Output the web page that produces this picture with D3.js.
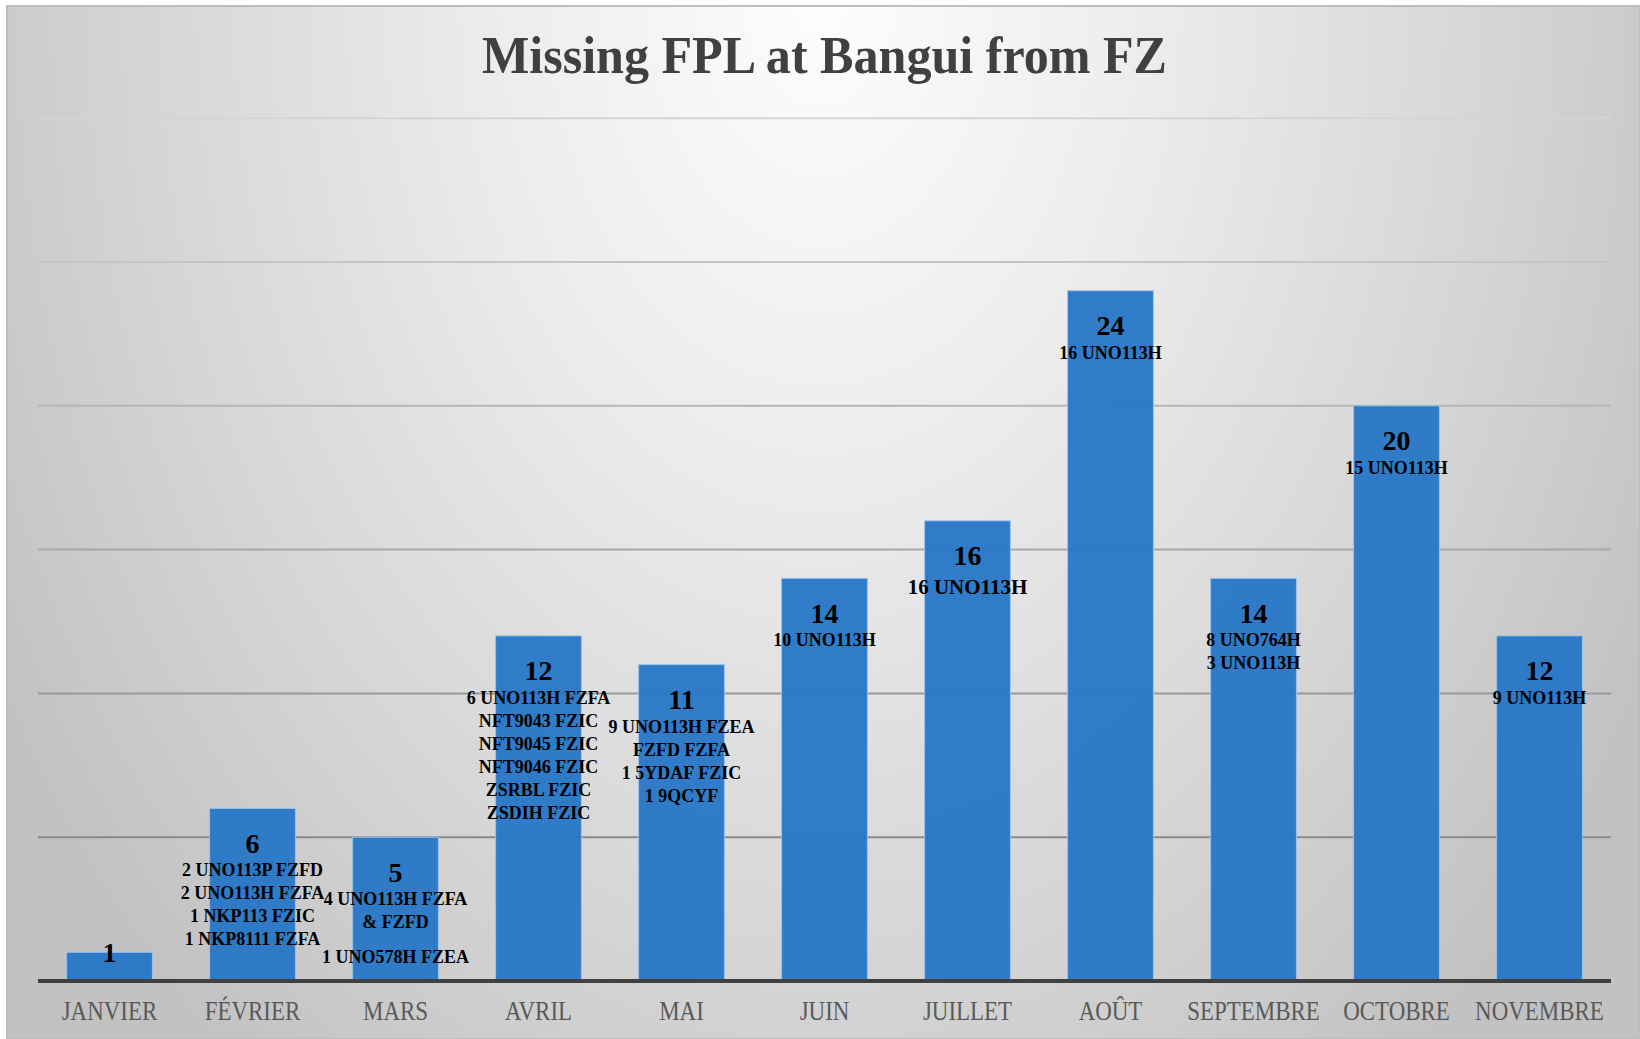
<!DOCTYPE html>
<html>
<head>
<meta charset="utf-8">
<script src="https://cdn.jsdelivr.net/npm/d3@7"></script>
<style>
  html, body { margin: 0; padding: 0; background: #ffffff; }
  svg { display: block; }
</style>
</head>
<body>
<svg id="chart" width="1640" height="1039"></svg>
<script>
// ---- data ----
const title = "Missing FPL at Bangui from FZ";
const months = ["JANVIER", "FÉVRIER", "MARS", "AVRIL", "MAI", "JUIN", "JUILLET", "AOÛT", "SEPTEMBRE", "OCTOBRE", "NOVEMBRE"];
const values = [1, 6, 5, 12, 11, 14, 16, 24, 14, 20, 12];
const details = [
  [],
  ["2 UNO113P FZFD", "2 UNO113H FZFA", "1 NKP113 FZIC", "1 NKP8111 FZFA"],
  ["4 UNO113H FZFA", "& FZFD", "", "1 UNO578H FZEA"],
  ["6 UNO113H FZFA", "NFT9043 FZIC", "NFT9045 FZIC", "NFT9046 FZIC", "ZSRBL FZIC", "ZSDIH FZIC"],
  ["9 UNO113H FZEA", "FZFD FZFA", "1 5YDAF FZIC", "1 9QCYF"],
  ["10 UNO113H"],
  ["16 UNO113H"],
  ["16 UNO113H"],
  ["8 UNO764H", "3 UNO113H"],
  ["15 UNO113H"],
  ["9 UNO113H"]
];
const yTicks = [0, 5, 10, 15, 20, 25, 30];

// ---- layout ----
const W = 1640, H = 1039;
const svg = d3.select("#chart");
const defs = svg.append("defs");

const bg = defs.append("radialGradient").attr("id", "bg")
  .attr("gradientUnits", "userSpaceOnUse")
  .attr("cx", 820).attr("cy", 0).attr("r", 1000)
  .attr("gradientTransform", "translate(820,0) scale(0.95,1.35) translate(-820,0)");
bg.append("stop").attr("offset", 0).attr("stop-color", "#fdfdfd");
bg.append("stop").attr("offset", 0.35).attr("stop-color", "#ececec");
bg.append("stop").attr("offset", 0.7).attr("stop-color", "#d6d6d6");
bg.append("stop").attr("offset", 1).attr("stop-color", "#c2c2c2");

svg.append("rect").attr("x", 7).attr("y", 6).attr("width", W - 7).attr("height", H - 6)
  .attr("fill", "url(#bg)").attr("stroke", "#bdbdbd").attr("stroke-width", 2);

const plot = { left: 38, right: 1611, top: 118.2, bottom: 981 };

const x = d3.scaleBand().domain(months).range([plot.left, plot.right])
  .paddingInner(0.4).paddingOuter(0.2);
const y = d3.scaleLinear().domain([0, 30]).range([plot.bottom, plot.top]);

// gridlines (lighter toward the top)
const gridColor = d3.scaleLinear().domain([5, 30]).range(["#8a8a8a", "#d4d4d4"]);
svg.append("g").selectAll("line").data(yTicks.filter(t => t > 0)).join("line")
  .attr("x1", plot.left).attr("x2", plot.right)
  .attr("y1", d => y(d)).attr("y2", d => y(d))
  .attr("stroke", d => gridColor(d)).attr("stroke-width", 2);

// bars
svg.append("g").selectAll("rect").data(months).join("rect")
  .attr("x", d => x(d))
  .attr("y", (d, i) => y(values[i]))
  .attr("width", x.bandwidth())
  .attr("height", (d, i) => y(0) - y(values[i]))
  .attr("fill", "#2676c6").attr("fill-opacity", 0.95)
  .attr("stroke", "#9cc2e8").attr("stroke-width", 1);

// x axis line
svg.append("line").attr("x1", plot.left).attr("x2", plot.right)
  .attr("y1", plot.bottom).attr("y2", plot.bottom)
  .attr("stroke", "#404040").attr("stroke-width", 4);

// x axis labels
const xAxis = svg.append("g").attr("transform", `translate(0,${plot.bottom})`)
  .call(d3.axisBottom(x).tickSize(0).tickPadding(0));
xAxis.select(".domain").remove();
xAxis.selectAll("text")
  .attr("y", 39)
  .attr("dy", 0)
  .attr("font-family", "'Liberation Serif', 'Times New Roman', serif")
  .attr("font-size", 27)
  .attr("fill", "#595959")
  .each(function () {
    const w = this.getComputedTextLength();
    d3.select(this).attr("textLength", w * 0.85).attr("lengthAdjust", "spacingAndGlyphs");
  });

// data labels
const labels = svg.append("g").attr("font-family", "'Liberation Serif', 'Times New Roman', serif")
  .attr("font-weight", "bold").attr("fill", "#000").attr("text-anchor", "middle");
months.forEach((m, i) => {
  const cx = x(m) + x.bandwidth() / 2;
  const top = y(values[i]);
  const barH = y(0) - top;
  const numY = barH < 40 ? top : top + 35;
  labels.append("text").attr("x", cx).attr("y", numY)
    .attr("dominant-baseline", "central").attr("font-size", 28).text(values[i]);
  const subSize = m === "JUILLET" ? 21 : 18;
  let ly = numY + (m === "JUILLET" ? 31 : 27);
  details[i].forEach(line => {
    if (line === "") { ly += 11.5; return; }
    labels.append("text").attr("x", cx).attr("y", ly)
      .attr("dominant-baseline", "central").attr("font-size", subSize).text(line);
    ly += 23;
  });
});

// title
svg.append("text").attr("x", (plot.left + plot.right) / 2).attr("y", 73)
  .attr("text-anchor", "middle")
  .attr("font-family", "'Liberation Serif', 'Times New Roman', serif")
  .attr("font-weight", "bold").attr("font-size", 52).attr("fill", "#404040")
  .attr("textLength", 685).attr("lengthAdjust", "spacingAndGlyphs")
  .text(title);
</script>
</body>
</html>
